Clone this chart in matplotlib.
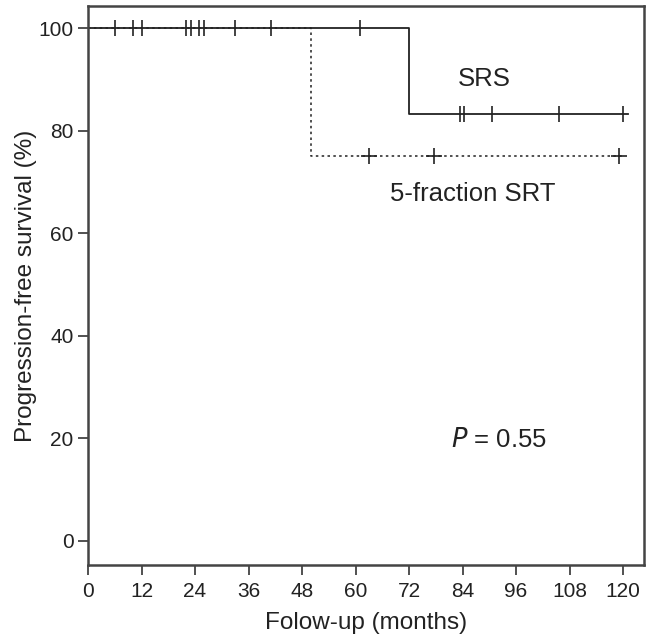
import matplotlib
matplotlib.use("Agg")
import matplotlib.pyplot as plt

plt.rcParams['font.family'] = ['Liberation Sans', 'DejaVu Sans']

# step curves (time in months, survival in %)
srs_t = [0, 72, 72, 121]
srs_s = [100, 100, 83.3, 83.3]
srt_t = [0, 50, 50, 120]
srt_s = [100, 100, 75, 75]

# censor marks
srs_cens_t = [6, 10, 12, 22, 23, 25, 26, 33, 41, 61, 83.5, 84.3, 90.5, 105.7, 120]
srs_cens_s = [100] * 10 + [83.3] * 5
srt_cens_t = [63, 77.5, 119]
srt_cens_s = [75, 75, 75]

xticks = list(range(0, 121, 12))
yticks = [0, 20, 40, 60, 80, 100]

fig = plt.figure(figsize=(6.57, 6.39), dpi=100)
ax = fig.add_axes([88 / 657, 1 - 565 / 639, (644 - 88) / 657, (565 - 6) / 639])

ax.plot(srt_t, srt_s, color='#333333', lw=1.2, ls=(0, (1.5, 2)))
ax.plot(srs_t, srs_s, color='#222222', lw=1.3)
ax.plot(srt_cens_t, srt_cens_s, ls='none', marker='+', ms=11, mew=1.2, color='#222222')
ax.plot(srs_cens_t, srs_cens_s, ls='none', marker='|', ms=11, mew=1.2, color='#222222')

ax.set_xlim(0, 124.7)
ax.set_ylim(-4.7, 104.3)
ax.set_xticks(xticks)
ax.set_yticks(yticks)
ax.tick_params(labelsize=15, length=7, width=1.2, color='#333333', labelcolor='#222222')
ax.tick_params(axis='x', pad=5)
for sp in ax.spines.values():
    sp.set_linewidth(1.8)
    sp.set_color('#444444')

ax.set_xlabel('Folow-up (months)', fontsize=17.5, color='#222222', labelpad=8)
ax.set_ylabel('Progression-free survival (%)', fontsize=17.5, color='#222222', labelpad=1)

ax.text(88.8, 90.1, 'SRS', fontsize=18.5, ha='center', va='center', color='#222222')
ax.text(86.2, 67.6, '5-fraction SRT', fontsize=18.5, ha='center', va='center', color='#222222')
ax.text(81.4, 19.7, '$P$ = 0.55', fontsize=18.5, ha='left', va='center', color='#222222')

fig.savefig('out.png', dpi=100)
